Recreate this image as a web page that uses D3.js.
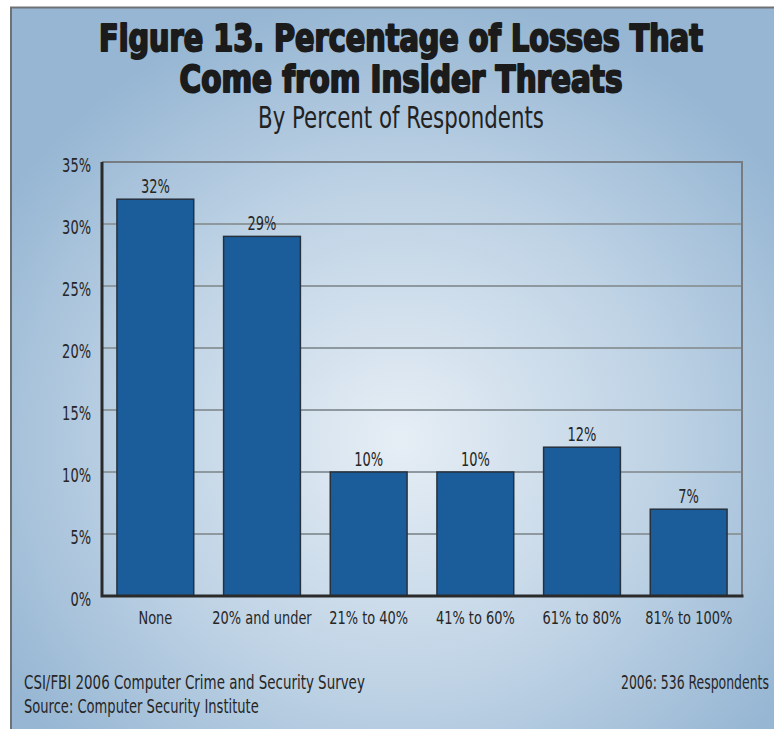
<!DOCTYPE html>
<html>
<head>
<meta charset="utf-8">
<script src="https://cdn.jsdelivr.net/npm/d3@7"></script>
<style>
  html, body { margin: 0; padding: 0; background: #fff; }
  svg { display: block; }
</style>
</head>
<body>
<script>
"use strict"

// Figure 13 bar chart, CSI/FBI 2006 survey

var categories = [
  "None", "20% and under", "21% to 40%",
  "41% to 60%", "61% to 80%", "81% to 100%"
]
var values = [32, 29, 10, 10, 12, 7]
var tickValues = [0, 5, 10, 15, 20, 25, 30, 35]

var titleLines = ["Figure 13. Percentage of Losses That", "Come from Insider Threats"]
var subtitle = "By Percent of Respondents"
var footLeft = ["CSI/FBI 2006 Computer Crime and Security Survey", "Source: Computer Security Institute"]
var footRight = "2006: 536 Respondents"

var width = 774
var height = 729
var font = "'Liberation Sans Narrow', 'DejaVu Sans Condensed', 'Arial Narrow', sans-serif"
var ink = "#262626"

var plot = {left: 102, right: 742, top: 162, bottom: 596}

// squeeze text horizontally, the original uses a condensed face
function condense(selection, k) {
  selection.each(function() {
    var w = this.getComputedTextLength()
    d3.select(this)
      .attr("textLength", w * k)
      .attr("lengthAdjust", "spacingAndGlyphs")
  })
}

// same idea for titles and footer, with a transform so it fits a width
function fitWidth(selection, px, py, target) {
  selection.each(function() {
    var w = this.getComputedTextLength()
    d3.select(this)
      .attr("x", 0).attr("y", 0)
      .attr("transform", "translate(" + px + "," + py + ") scale(" + (target / w) + ",1)")
  })
}

var svg = d3.select("body").append("svg")
  .attr("width", width)
  .attr("height", height)

var defs = svg.append("defs")
var grad = defs.append("radialGradient")
  .attr("id", "bg")
  .attr("gradientUnits", "userSpaceOnUse")
  .attr("cx", 400).attr("cy", 440).attr("r", 470)
  .attr("gradientTransform", "translate(400,440) scale(1,0.95) translate(-400,-440)")
grad.append("stop").attr("offset", 0).attr("stop-color", "#e6eef5")
grad.append("stop").attr("offset", 0.55).attr("stop-color", "#bfd3e5")
grad.append("stop").attr("offset", 1).attr("stop-color", "#96b6d3")

// panel + frame
svg.append("rect")
  .attr("x", 11).attr("y", 7)
  .attr("width", width - 11).attr("height", height - 7)
  .attr("fill", "url(#bg)")
svg.append("path")
  .attr("d", "M11," + height + "V7.5H" + width)
  .attr("fill", "none")
  .attr("stroke", "#6e7275")
  .attr("stroke-width", 2)

// titles
var titleY = [51, 92]
var titleW = [604, 443]
svg.append("g").selectAll("text")
  .data(titleLines)
  .enter().append("text")
    .attr("text-anchor", "middle")
    .style("font-family", font)
    .style("font-weight", "bold")
    .style("font-size", "37px")
    .style("fill", "#1b1b1b")
    .style("stroke", "#1b1b1b")
    .style("stroke-width", 2)
    .style("stroke-linejoin", "round")
    .text(function(d) { return d })
    .each(function(d, i) { d3.select(this).call(fitWidth, 401, titleY[i], titleW[i]) })

svg.append("text")
  .attr("text-anchor", "middle")
  .style("font-family", font)
  .style("font-size", "31px")
  .style("fill", "#222")
  .text(subtitle)
  .call(fitWidth, 401, 128, 286)

// scales
var x = d3.scaleBand()
  .domain(categories)
  .range([plot.left, plot.right])
  .paddingInner(0.28)
  .paddingOuter(0.14)

var y = d3.scaleLinear()
  .domain([0, 35])
  .range([plot.bottom, plot.top])

// grid
svg.append("g")
  .selectAll("line")
  .data(tickValues.slice(1))
  .enter().append("line")
    .attr("x1", plot.left)
    .attr("x2", plot.right)
    .attr("y1", function(d) { return y(d) })
    .attr("y2", function(d) { return y(d) })
    .attr("stroke", function(d) { return d === 35 ? "#767c82" : "#8e989f" })
    .attr("stroke-width", 2)

svg.append("line")
  .attr("x1", plot.right).attr("x2", plot.right)
  .attr("y1", plot.top - 1).attr("y2", plot.bottom)
  .attr("stroke", "#767c82")
  .attr("stroke-width", 2)

// bars
svg.append("g")
  .selectAll("rect")
  .data(values)
  .enter().append("rect")
    .attr("x", function(d, i) { return x(categories[i]) })
    .attr("y", function(d) { return y(d) })
    .attr("width", x.bandwidth())
    .attr("height", function(d) { return y(0) - y(d) })
    .attr("fill", "#1b5d9b")
    .attr("stroke", "#27313d")
    .attr("stroke-width", 1.5)

svg.append("g")
  .selectAll("text")
  .data(values)
  .enter().append("text")
    .attr("x", function(d, i) { return x(categories[i]) + x.bandwidth() / 2 })
    .attr("y", function(d) { return y(d) - 6 })
    .attr("text-anchor", "middle")
    .style("font-family", font)
    .style("font-size", "19px")
    .style("fill", ink)
    .text(function(d) { return d + "%" })
    .call(condense, 0.76)

// axes
var yAxis = d3.axisLeft(y)
  .tickValues(tickValues)
  .tickSize(0)
  .tickPadding(11)
  .tickFormat(function(d) { return d + "%" })

var gy = svg.append("g")
  .attr("transform", "translate(" + plot.left + ",0)")
  .call(yAxis)
gy.select(".domain").remove()
gy.selectAll("text")
  .attr("dy", "0.48em")
  .style("font-family", font)
  .style("font-size", "19px")
  .style("fill", ink)
  .call(condense, 0.76)

var xAxis = d3.axisBottom(x)
  .tickSize(0)
  .tickPadding(15)

var gx = svg.append("g")
  .attr("transform", "translate(0," + plot.bottom + ")")
  .call(xAxis)
gx.select(".domain").remove()
gx.selectAll("text")
  .style("font-family", font)
  .style("font-size", "18px")
  .style("fill", ink)
  .call(condense, 0.8)

svg.append("path")
  .attr("d", "M" + plot.left + "," + plot.top + "V" + plot.bottom + "H" + (plot.right + 1.5))
  .attr("fill", "none")
  .attr("stroke", "#2a2a2a")
  .attr("stroke-width", 3)

// footer
var footW = [341, 235]
svg.append("g").selectAll("text")
  .data(footLeft)
  .enter().append("text")
    .style("font-family", font)
    .style("font-size", "19px")
    .style("fill", ink)
    .text(function(d) { return d })
    .each(function(d, i) { d3.select(this).call(fitWidth, 24, 689 + i * 24, footW[i]) })

svg.append("text")
  .style("font-family", font)
  .style("font-size", "19px")
  .style("fill", ink)
  .text(footRight)
  .call(fitWidth, 621, 689, 148)
</script>
</body>
</html>
